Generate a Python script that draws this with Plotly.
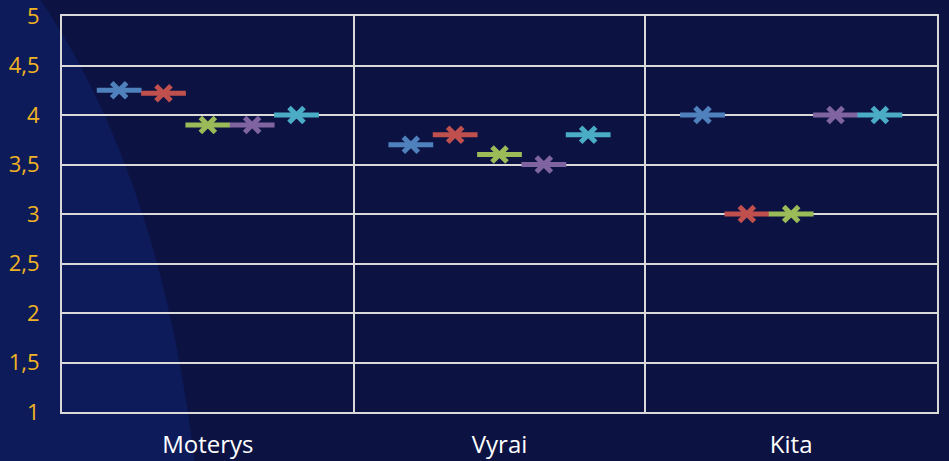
import plotly.graph_objects as go

categories = ["Moterys", "Vyrai", "Kita"]
series_names = ["S1", "S2", "S3", "S4", "S5"]
s1 = [4.25, 3.7, 4.0]
s2 = [4.22, 3.8, 3.0]
s3 = [3.9, 3.6, 3.0]
s4 = [3.9, 3.5, 4.0]
s5 = [4.0, 3.8, 4.0]
series_values = [s1, s2, s3, s4, s5]
colors = ["#4f81bd", "#c0504d", "#9bbb59", "#8064a2", "#4bacc6"]
y_ticks = [1, 1.5, 2, 2.5, 3, 3.5, 4, 4.5, 5]
y_labels = ["1", "1,5", "2", "2,5", "3", "3,5", "4", "4,5", "5"]

W, H = 949, 461
ML, MR, MT, MB = 62, 12, 16, 49
PW, PH = W - ML - MR, H - MT - MB


def px(x, y):
    return (x - ML) / PW, (H - MB - y) / PH


def pt(x, y):
    a, b = px(x, y)
    return f"{a:.4f},{b:.4f}"


path = (f"M {pt(-5,-5)} L {pt(37,-5)} C {pt(110,100)} {pt(170,250)} {pt(195,466)} "
        f"L {pt(-5,466)} Z")

fig = go.Figure()
for name, vals, col in zip(series_names, series_values, colors):
    fig.add_trace(go.Scatter(
        x=categories, y=vals, mode="markers", name=name, offsetgroup=name,
        marker=dict(symbol="line-ew", size=32, color=col,
                    line=dict(color=col, width=5)),
        hoverinfo="skip", showlegend=False))
    fig.add_trace(go.Scatter(
        x=categories, y=vals, mode="markers", name=name, offsetgroup=name,
        marker=dict(symbol="x-thin", size=15, color=col,
                    line=dict(color=col, width=5)),
        showlegend=False))

grid = "#d9d9d9"
fig.update_layout(
    width=W, height=H,
    margin=dict(l=ML, r=MR, t=MT, b=MB, autoexpand=False),
    paper_bgcolor="#0c1343",
    plot_bgcolor="rgba(0,0,0,0)",
    scattermode="group",
    scattergap=0.24,
    showlegend=False,
    font=dict(family="Open Sans, sans-serif", size=24, color="white"),
    shapes=[dict(type="path", xref="paper", yref="paper", path=path,
                 fillcolor="#0e1b5a", line=dict(width=0), layer="below")],
    xaxis=dict(type="category", tickson="boundaries", showgrid=True,
               gridcolor=grid, gridwidth=1.5, showline=True, linecolor=grid,
               linewidth=2, mirror=True, ticks="",
               tickfont=dict(color="white", size=24),
               ticklabelstandoff=10, zeroline=False, fixedrange=True),
    yaxis=dict(range=[1, 5], tickvals=y_ticks, ticktext=y_labels,
               showgrid=True, gridcolor=grid, gridwidth=2, showline=True,
               linecolor=grid, linewidth=2, mirror=True, ticks="",
               tickfont=dict(color="#f0b323", size=22),
               ticklabeloverflow="allow",
               ticklabelstandoff=16, zeroline=False, fixedrange=True),
)

fig.write_html(
    "out.html",
    config={"displayModeBar": False},
    post_script="document.body.style.margin='0';document.body.style.overflow='hidden';",
)
